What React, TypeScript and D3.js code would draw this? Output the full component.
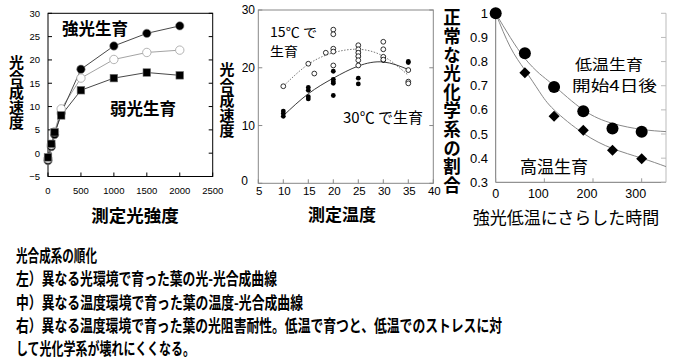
import React from "react";
import * as d3 from "d3";

// left: light response curves
const lightX = [0, 50, 100, 200, 500, 1000, 1500, 2000];
const highLightGrown = [-1.6, 1.4, 4.0, 8.6, 18.0, 23.0, 25.7, 27.3];
const midLightGrown = [-1.2, 1.8, 4.6, 9.5, 16.1, 20.1, 21.6, 22.1];
const lowLightGrown = [-0.9, 2.0, 4.5, 8.1, 13.5, 16.1, 17.3, 16.7];
const lightTicksX = [0, 500, 1000, 1500, 2000, 2500];
const lightTicksY = [-5, 0, 5, 10, 15, 20, 25, 30];

// middle: temperature response
const cool15X = [10, 15, 16.2, 18.5, 20, 20, 20, 20, 20, 25, 25, 25, 25, 25, 25, 30, 30, 30, 30, 35, 35, 35];
const cool15Y = [16.8, 20.7, 19.0, 22.6, 26.6, 25.8, 23.3, 22.8, 20.4, 23.9, 23.2, 22.6, 22.0, 21.3, 20.4, 24.5, 23.2, 21.9, 21.4, 19.6, 17.6, 17.3];
const warm30X = [10, 10, 10, 15, 15, 15, 15, 20, 20, 20, 20, 20, 25, 25, 25, 25, 30, 30, 35, 35];
const warm30Y = [12.5, 12.1, 11.6, 16.6, 16.1, 15.0, 14.6, 19.4, 18.0, 17.6, 17.3, 15.2, 22.6, 22.0, 18.2, 17.2, 21.8, 21.3, 21.1, 20.9];
const fitTemps = [10, 15, 20, 25, 30, 35];
const cool15Fit = [16.8, 20.6, 22.6, 23.2, 22.0, 18.7];
const warm30Fit = [11.7, 15.5, 18.2, 20.3, 21.0, 19.7];
const tempTicksX = [5, 10, 15, 20, 25, 30, 35, 40];
const tempTicksY = [0, 10, 20, 30];

// right: photoinhibition
const exposureTime = [0, 60, 120, 180, 240, 300];
const coolGrown = [1.0, 0.835, 0.695, 0.594, 0.523, 0.509];
const warmGrown = [1.0, 0.754, 0.574, 0.516, 0.433, 0.398];
const fitTime = [0, 30, 60, 90, 120, 180, 240, 300, 350];
const coolFit = [1.0, 0.9, 0.813, 0.75, 0.7, 0.6, 0.544, 0.519, 0.51];
const warmFit = [1.0, 0.86, 0.765, 0.675, 0.6, 0.503, 0.44, 0.4, 0.365];
const timeTicksX = [0, 100, 200, 300];
const ratioTicksY = [0.3, 0.4, 0.5, 0.6, 0.7, 0.8, 0.9, 1];

const notes = [
  "光合成系の順化",
  "左）異なる光環境で育った葉の光-光合成曲線",
  "中）異なる温度環境で育った葉の温度-光合成曲線",
  "右）異なる温度環境で育った葉の光阻害耐性。低温で育つと、低温でのストレスに対",
  "して光化学系が壊れにくくなる。",
];
const noteWidths = [81, 261, 287, 486, 179];

const JP = "'Noto Sans CJK JP', 'Noto Sans', sans-serif";
const NUM = "'Liberation Sans', Arial, sans-serif";
const NARROW = "'Liberation Sans Narrow', 'Liberation Sans', sans-serif";

// vertical axis title, one text element written top to bottom
const VLabel = ({ text, x, y, size, len }: { text: string; x: number; y: number; size: number; len: number }) => (
  <text x={x} y={y} fontFamily={JP} fontWeight={700} fontSize={size}
    style={{ writingMode: "vertical-rl" } as any} textLength={len} lengthAdjust="spacingAndGlyphs">
    {text}
  </text>
);

export default function App() {
  // left scales
  const xL = d3.scaleLinear().domain([0, 2500]).range([48, 212.7]);
  const yL = d3.scaleLinear().domain([-5, 30]).range([176.5, 13.3]);
  const lineL = (ys: number[]) =>
    d3.line<number>().x((_, i) => xL(lightX[i])).y((d) => yL(d))(ys) || "";

  // middle scales
  const xM = d3.scaleLinear().domain([5, 40]).range([258.3, 433.3]);
  const yM = d3.scaleLinear().domain([0, 30]).range([183.3, 10]);
  const fitM = (ys: number[]) =>
    d3.line<number>().curve(d3.curveNatural).x((_, i) => xM(fitTemps[i])).y((d) => yM(d))(ys) || "";

  // right scales
  const xR = d3.scaleLinear().domain([0, 350]).range([495.7, 666]);
  const yR = d3.scaleLinear().domain([0.3, 1]).range([182.3, 13.3]);
  const fitR = (ys: number[]) =>
    d3.line<number>().curve(d3.curveNatural).x((_, i) => xR(fitTime[i])).y((d) => yR(d))(ys) || "";

  return (
    <svg width={691} height={362} style={{ position: "absolute", left: 0, top: 0, background: "#fff" }}>
      {/* ---------- left panel ---------- */}
      <rect x={xL(0)} y={yL(30)} width={xL(2500) - xL(0)} height={yL(-5) - yL(30)} fill="none" stroke="#000" strokeWidth={1} />
      {lightTicksY.map((t) => (
        <g key={t}>
          <line x1={xL(0)} x2={xL(0) + 4} y1={yL(t)} y2={yL(t)} stroke="#000" />
          <line x1={xL(2500)} x2={xL(2500) - 4} y1={yL(t)} y2={yL(t)} stroke="#000" />
          <text x={40} y={yL(t)} dy="0.35em" textAnchor="end" fontFamily={NARROW} fontSize={9.5}>
            {t < 0 ? "\u2212" + Math.abs(t) : t}
          </text>
        </g>
      ))}
      {lightTicksX.map((t) => (
        <g key={t}>
          <line x1={xL(t)} x2={xL(t)} y1={yL(-5)} y2={yL(-5) - 4} stroke="#000" />
          <text x={xL(t)} y={194} textAnchor="middle" fontFamily={NARROW} fontSize={9.5}>{t}</text>
        </g>
      ))}
      <path d={lineL(lowLightGrown)} fill="none" stroke="#333" strokeWidth={0.9} />
      <path d={lineL(midLightGrown)} fill="none" stroke="#999" strokeWidth={0.9} />
      <path d={lineL(highLightGrown)} fill="none" stroke="#333" strokeWidth={0.9} />
      {highLightGrown.map((v, i) => (
        <circle key={"h" + i} cx={xL(lightX[i])} cy={yL(v)} r={4.2} fill="#000" stroke="#888" strokeWidth={0.6} />
      ))}
      {midLightGrown.map((v, i) => (
        <circle key={"m" + i} cx={xL(lightX[i])} cy={yL(v)} r={4.2} fill="#fff" stroke="#aaa" strokeWidth={0.9} />
      ))}
      {lowLightGrown.map((v, i) => (
        <rect key={"l" + i} x={xL(lightX[i]) - 3.8} y={yL(v) - 3.8} width={7.6} height={7.6} fill="#000" stroke="#777" strokeWidth={0.6} />
      ))}
      <text x={62} y={35} fontFamily={JP} fontWeight={700} fontSize={16.5}>強光生育</text>
      <text x={110} y={115} fontFamily={JP} fontWeight={700} fontSize={16.5}>弱光生育</text>
      <VLabel text="光合成速度" x={16.5} y={55} size={15} len={75} />
      <text x={135} y={222} textAnchor="middle" fontFamily={JP} fontWeight={700} fontSize={17.5}>測定光強度</text>

      {/* ---------- middle panel ---------- */}
      <rect x={xM(5)} y={yM(30)} width={xM(40) - xM(5)} height={yM(0) - yM(30)} fill="none" stroke="#888" strokeWidth={1} />
      {tempTicksY.map((t) => (
        <g key={t}>
          <line x1={xM(5)} x2={xM(5) + 4} y1={yM(t)} y2={yM(t)} stroke="#888" />
          <line x1={xM(40)} x2={xM(40) - 4} y1={yM(t)} y2={yM(t)} stroke="#888" />
          <text x={t === 0 ? 248 : 255} y={yM(t)} dy={t === 0 ? "0.1em" : "0.35em"} textAnchor="end" fontFamily={NUM} fontSize={12}>{t}</text>
        </g>
      ))}
      {tempTicksX.map((t) => (
        <g key={t}>
          <line x1={xM(t)} x2={xM(t)} y1={yM(0)} y2={yM(0) - 4} stroke="#888" />
          <text x={xM(t) + 1} y={195} textAnchor="middle" fontFamily={NUM} fontSize={11.5}>{t}</text>
        </g>
      ))}
      <path d={fitM(cool15Fit)} fill="none" stroke="#555" strokeWidth={0.8} strokeDasharray="1.5,1.5" />
      <path d={fitM(warm30Fit)} fill="none" stroke="#222" strokeWidth={0.9} />
      {warm30Y.map((v, i) => (
        <circle key={"w" + i} cx={xM(warm30X[i])} cy={yM(v)} r={2.4} fill="#000" />
      ))}
      {cool15Y.map((v, i) => (
        <circle key={"c" + i} cx={xM(cool15X[i])} cy={yM(v)} r={2.4} fill="#fff" stroke="#000" strokeWidth={0.8} />
      ))}
      <text x={270} y={37} fontFamily={JP} fontSize={13} textLength={47} lengthAdjust="spacingAndGlyphs">15℃ で</text>
      <text x={270} y={56} fontFamily={JP} fontSize={13} textLength={28} lengthAdjust="spacingAndGlyphs">生育</text>
      <text x={343} y={123} fontFamily={JP} fontSize={15}>30℃ で生育</text>
      <VLabel text="光合成速度" x={227} y={62} size={15} len={76} />
      <text x={342} y={221} textAnchor="middle" fontFamily={JP} fontWeight={700} fontSize={17}>測定温度</text>

      {/* ---------- right panel ---------- */}
      <line x1={xR(0)} x2={xR(0)} y1={yR(1)} y2={yR(0.3)} stroke="#777" />
      <line x1={xR(0)} x2={xR(350)} y1={yR(0.3)} y2={yR(0.3)} stroke="#777" />
      <line x1={xR(350)} x2={xR(350)} y1={yR(1)} y2={yR(0.3)} stroke="#bbb" />
      {ratioTicksY.map((t) => (
        <g key={t}>
          <line x1={xR(350)} x2={xR(350) - 5} y1={yR(t)} y2={yR(t)} stroke="#bbb" />
          <text x={488} y={yR(t)} dy="0.35em" textAnchor="end" fontFamily={NUM} fontSize={13}>{t}</text>
        </g>
      ))}
      {timeTicksX.map((t) => (
        <g key={t}>
          <line x1={xR(t)} x2={xR(t)} y1={yR(0.3)} y2={yR(0.3) - 4} stroke="#999" />
          <text x={xR(t)} dx={t === 0 ? 0 : -6} y={198} textAnchor="middle" fontFamily={NUM} fontSize={12.5}>{t}</text>
        </g>
      ))}
      <path d={fitR(coolFit)} fill="none" stroke="#888" strokeWidth={1} />
      <path d={fitR(warmFit)} fill="none" stroke="#888" strokeWidth={1} />
      {warmGrown.map((v, i) => {
        const cx = xR(exposureTime[i]);
        const cy = yR(v);
        return <path key={"d" + i} d={`M${cx},${cy - 5.5}L${cx + 5.5},${cy}L${cx},${cy + 5.5}L${cx - 5.5},${cy}Z`} fill="#000" />;
      })}
      {coolGrown.map((v, i) => (
        <circle key={"g" + i} cx={xR(exposureTime[i])} cy={yR(v)} r={6} fill="#000" />
      ))}
      <text x={575} y={69.5} fontFamily={JP} fontSize={15} textLength={68} lengthAdjust="spacingAndGlyphs">低温生育</text>
      <text x={572} y={91} fontFamily={JP} fontSize={15} textLength={85} lengthAdjust="spacingAndGlyphs">開始4日後</text>
      <text x={520} y={173} fontFamily={JP} fontSize={17}>高温生育</text>
      <VLabel text="正常な光化学系の割合" x={452} y={8} size={17.5} len={186} />
      <text x={566} y={224} textAnchor="middle" fontFamily={JP} fontSize={17}>強光低温にさらした時間</text>

      {/* ---------- notes ---------- */}
      {notes.map((s, i) => (
        <text key={i} x={16} y={262 + i * 23.3} fontFamily={JP} fontWeight={700} fontSize={16.5}
          textLength={noteWidths[i]} lengthAdjust="spacingAndGlyphs">{s}</text>
      ))}
    </svg>
  );
}
